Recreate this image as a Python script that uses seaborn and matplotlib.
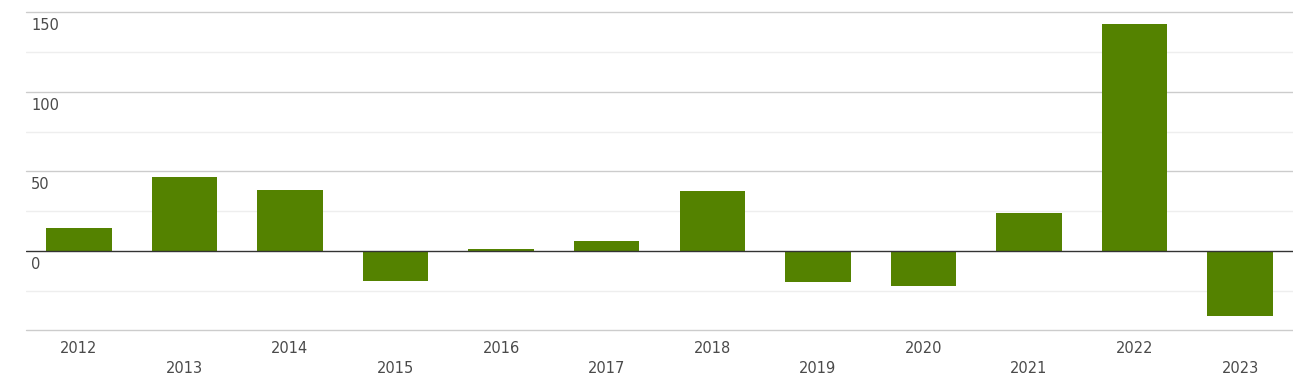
import matplotlib
matplotlib.use("Agg")
import matplotlib.pyplot as plt
import seaborn as sns
import pandas as pd

years = ["2012", "2013", "2014", "2015", "2016", "2017", "2018", "2019", "2020", "2021", "2022", "2023"]
values = [14.5, 46.5, 38.4, -18.8, 1.3, 6.3, 37.7, -19.5, -22.0, 23.9, 142.8, -40.7]
major_ticks = [150, 100, 50, 0]
tick_labels = ["150", "100", "50", "0"]

sns.set_style("white")
plt.rcParams['font.family'] = ['DejaVu Sans']

W, H = 1293, 384
fig = plt.figure(figsize=(W / 100, H / 100), dpi=100)
ax = fig.add_axes([26 / W, 1 - 330.3 / H, (W - 26) / W, (330.3 - 12.3) / H])

df = pd.DataFrame({"year": years, "value": values})
sns.barplot(data=df, x="year", y="value", color="#548200", saturation=1, width=0.62,
            linewidth=0, edgecolor="none", ax=ax, zorder=3)

ax.set_ylim(-50, 150)
ax.set_xlim(-0.5, len(years) - 0.5)

for v in [150, 100, 50, -50]:
    ax.axhline(v, color="#cccccc", lw=1, zorder=1, clip_on=False)
for v in [125, 75, 25, -25]:
    ax.axhline(v, color="#eeeeee", lw=1, zorder=1)
ax.axhline(0, color="#333333", lw=1, zorder=4)

for s in ax.spines.values():
    s.set_visible(False)
ax.set_yticks([])
ax.set_xlabel("")
ax.set_ylabel("")

for v, lab in zip(major_ticks, tick_labels):
    ax.annotate(lab, xy=(0, v), xycoords=("axes fraction", "data"), xytext=(5, -6),
                textcoords="offset pixels", ha="left", va="top", fontsize=10.5, color="#4a4a4a")

ax.set_xticks(range(len(years)))
ax.set_xticklabels([])
ax.tick_params(axis="x", length=0)
for i, y in enumerate(years):
    off = -11 if i % 2 == 0 else -31
    ax.annotate(y, xy=(i, -50), xycoords="data", xytext=(0, off), textcoords="offset pixels",
                ha="center", va="top", fontsize=10.5, color="#4a4a4a")

fig.savefig("out.png", dpi=100)
